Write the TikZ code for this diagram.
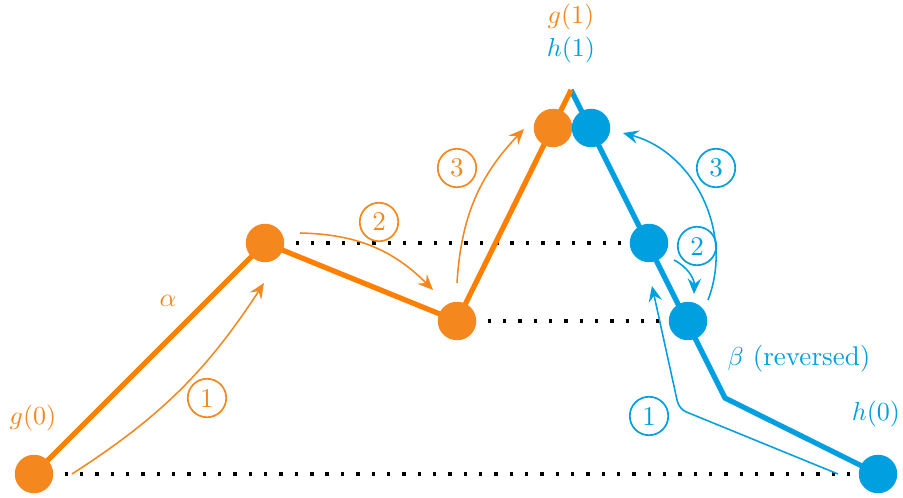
\documentclass[tikz,border=0pt]{standalone}
\usetikzlibrary{arrows.meta}
\definecolor{orng}{HTML}{F5871F}
\definecolor{orngline}{HTML}{FF8000}
\definecolor{blu}{HTML}{009FDF}
\begin{document}
\begin{tikzpicture}[x=0.3846pt,y=-0.3846pt,
  dotnode/.style={circle,fill=#1,minimum size=14.8pt,inner sep=0pt},
  pathline/.style={line width=2pt,draw=#1},
  guide/.style={black,line width=1.3pt,dash pattern=on 1.3pt off 4.6pt},
  stepnum/.style={circle,draw=#1,text=#1,line width=0.65pt,minimum size=14.8pt,inner sep=0pt,font=\fontsize{10.4}{12}\selectfont},
  move/.style={draw=#1,line width=0.6pt,-{Stealth[length=6pt,width=5.2pt,inset=2.2pt]}},
  lbl/.style={text=#1,inner sep=0pt,font=\fontsize{10.4}{12}\selectfont}]
\useasboundingbox (0,0) rectangle (903,498);
% anchor points
\coordinate (G0) at (34,474);
\coordinate (A1) at (265,243);
\coordinate (A2) at (457,321);
\coordinate (GT) at (553,128);
\coordinate (apex) at (571,90);
\coordinate (HT) at (591,128);
\coordinate (B1) at (649,243);
\coordinate (B2) at (688,321);
\coordinate (bend) at (725,398);
\coordinate (H0) at (878,474);
% dotted guides
\draw[guide] (G0) -- (H0);
\draw[guide] (A1) -- (B1);
\draw[guide] (A2) -- (B2);
% paths
\draw[pathline=blu] (apex) -- (bend) -- (H0);
\draw[pathline=orngline] (G0) -- (A1) -- (A2) -- (apex);
% dots
\node[dotnode=orng] (g0) at (G0) {};
\node[dotnode=orng] (a1) at (A1) {};
\node[dotnode=orng] (a2) at (A2) {};
\node[dotnode=orng] (gt) at (GT) {};
\node[dotnode=blu] (ht) at (HT) {};
\node[dotnode=blu] (b1) at (B1) {};
\node[dotnode=blu] (b2) at (B2) {};
\node[dotnode=blu] (h0) at (H0) {};
% labels
\node[lbl=orng] (lg0) at (33,418) {$g(0)$};
\node[lbl=orng] (lalpha) at (168,301) {$\alpha$};
\node[lbl=orng] (lg1) at (571,17) {$g(1)$};
\node[lbl=blu] (lh1) at (571,50) {$h(1)$};
\node[lbl=blu] (lbeta) at (799,359) {$\beta$ (reversed)};
\node[lbl=blu] (lh0) at (876,414) {$h(0)$};
% step numbers
\node[stepnum=orng] (o1) at (207,398) {1};
\node[stepnum=orng] (o2) at (379,222) {2};
\node[stepnum=orng] (o3) at (457,168) {3};
\node[stepnum=blu] (n1) at (649,416) {1};
\node[stepnum=blu] (n2) at (697,246) {2};
\node[stepnum=blu] (n3) at (716,168) {3};
% move arrows
\coordinate (o1s) at (72,474);
\coordinate (o1e) at (264,283);
\coordinate (o2s) at (300,233);
\coordinate (o2e) at (433,290);
\coordinate (o3s) at (457,283);
\coordinate (o3e) at (524,129);
\coordinate (n1s) at (838,474);
\coordinate (n1c) at (679,409);
\coordinate (n1e) at (652,286);
\coordinate (n2s) at (674,260);
\coordinate (n2e) at (694,294);
\coordinate (n3s) at (708,300);
\coordinate (n3e) at (623,133);
\draw[move=orng] (o1s) to[bend right=12] (o1e);
\draw[move=orng] (o2s) to[bend left=22] (o2e);
\draw[move=orng] (o3s) to[bend left=20] (o3e);
\draw[move=blu,rounded corners=3pt] (n1s) -- (n1c) -- (n1e);
\draw[move=blu] (n2s) to[bend left=32] (n2e);
\draw[move=blu] (n3s) to[bend right=48] (n3e);
\end{tikzpicture}
\end{document}
